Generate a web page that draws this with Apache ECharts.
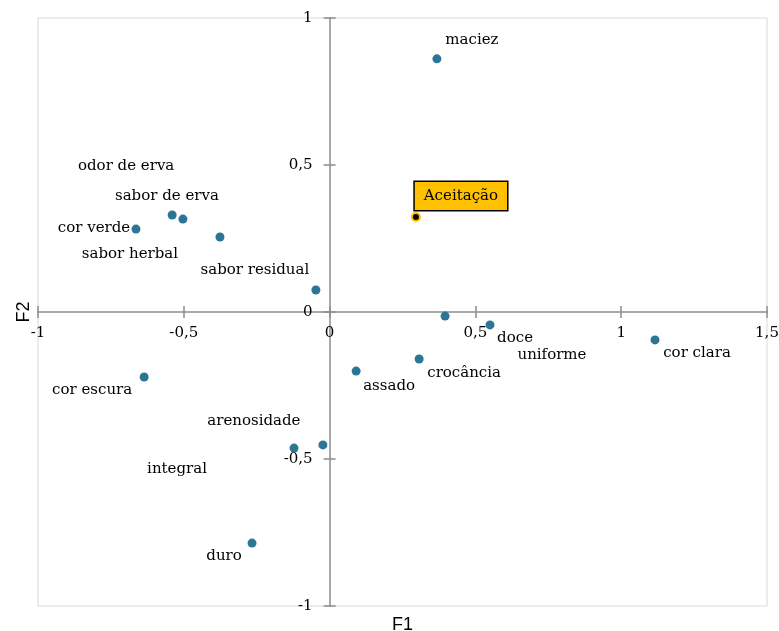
<!DOCTYPE html>
<html>
<head>
<meta charset="utf-8">
<script src="https://cdn.jsdelivr.net/npm/echarts@6/dist/echarts.min.js"></script>
<style>
  html, body { margin: 0; padding: 0; background: #ffffff; }
  #chart { width: 779px; height: 631px; }
</style>
</head>
<body>
<div id="chart"></div>
<script>
// Sensory attributes projected on the first two factors (F1, F2)
const attributes = [
  'maciez', 'odor de erva', 'sabor de erva', 'cor verde', 'sabor herbal',
  'sabor residual', 'doce', 'uniforme', 'cor clara', 'crocância',
  'assado', 'cor escura', 'arenosidade', 'integral', 'duro'
];
const f1Values = [0.368, -0.540, -0.503, -0.664, -0.376, -0.047, 0.396, 0.550, 1.116, 0.307, 0.091, -0.636, -0.023, -0.122, -0.266];
const f2Values = [0.861, 0.330, 0.316, 0.282, 0.255, 0.075, -0.014, -0.044, -0.095, -0.160, -0.201, -0.221, -0.452, -0.463, -0.786];

// Supplementary variable
const acceptanceName = 'Aceitação';
const acceptanceF1 = [0.296];
const acceptanceF2 = [0.323];

// Axis settings
const xTicks = { min: -1, max: 1.5, step: 0.5 };
const yTicks = { min: -1, max: 1, step: 0.5 };
const axisTitles = ['F1', 'F2'];

// Where each attribute label sits relative to its point (px)
const labelShift = {
  'maciez': [35, -19],
  'odor de erva': [-46, -49],
  'sabor de erva': [-16, -23],
  'cor verde': [-42, -1],
  'sabor herbal': [-90, 17],
  'sabor residual': [-61, -20],
  'doce': [70, 22],
  'uniforme': [62, 30],
  'cor clara': [42, 13],
  'crocância': [45, 14],
  'assado': [33, 15],
  'cor escura': [-52, 13],
  'arenosidade': [-69, -24],
  'integral': [-117, 21],
  'duro': [-28, 13]
};

const W = 779, H = 631;
const gridBox = { left: 38, right: 12, top: 18, bottom: 25 };
const gridW = W - gridBox.left - gridBox.right;
const gridH = H - gridBox.top - gridBox.bottom;

// Axes cross at the origin: shift each axis line from its grid edge to zero
const zeroFromLeft = gridW * (0 - xTicks.min) / (xTicks.max - xTicks.min);
const zeroFromRight = gridW - zeroFromLeft;
const zeroFromTop = gridH * (yTicks.max - 0) / (yTicks.max - yTicks.min);
const zeroFromBottom = gridH - zeroFromTop;

const serif = 'DejaVu Serif';
const axisGray = '#8c8c8c';
const textColor = '#000000';
const comma = v => String(v).replace('.', ',');

const attrData = attributes.map((name, i) => ({
  name: name,
  value: [f1Values[i], f2Values[i]],
  label: { offset: labelShift[name] }
}));

const accData = acceptanceF1.map((x, i) => ({
  name: acceptanceName,
  value: [x, acceptanceF2[i]]
}));

function mainAxis(range, title, gap, isX) {
  return {
    type: 'value',
    min: range.min, max: range.max, interval: range.step,
    position: isX ? 'bottom' : 'left',
    offset: isX ? -zeroFromBottom : -zeroFromLeft,
    axisLine: { show: true, onZero: false, lineStyle: { color: axisGray, width: 1.5 } },
    axisTick: { show: true, length: 6, lineStyle: { color: axisGray, width: 1.5 } },
    axisLabel: {
      formatter: comma, fontFamily: serif, fontSize: 15, color: textColor,
      margin: isX ? 14 : 17, showMinLabel: true, showMaxLabel: true, hideOverlap: false
    },
    splitLine: { show: false },
    name: title, nameLocation: 'middle', nameGap: gap,
    nameTextStyle: { fontFamily: 'Liberation Sans', fontSize: 18, color: textColor }
  };
}

// Second axis pair draws the other half of each tick, so ticks cross the axis line
function crossAxis(range, isX) {
  return {
    type: 'value',
    min: range.min, max: range.max, interval: range.step,
    position: isX ? 'top' : 'right',
    offset: isX ? -zeroFromTop : -zeroFromRight,
    axisLine: { show: false, onZero: false },
    axisTick: { show: true, length: 6, lineStyle: { color: axisGray, width: 1.5 } },
    axisLabel: { show: false },
    splitLine: { show: false }
  };
}

const chart = echarts.init(document.getElementById('chart'), null, { renderer: 'canvas' });
chart.setOption({
  animation: false,
  backgroundColor: '#ffffff',
  grid: {
    left: gridBox.left, right: gridBox.right, top: gridBox.top, bottom: gridBox.bottom,
    show: true, borderColor: '#d9d9d9', borderWidth: 1,
    outerBoundsMode: 'none', containLabel: false
  },
  xAxis: [mainAxis(xTicks, axisTitles[0], 304, true), crossAxis(xTicks, true)],
  yAxis: [mainAxis(yTicks, axisTitles[1], 297, false), crossAxis(yTicks, false)],
  series: [
    {
      type: 'scatter',
      xAxisIndex: 0, yAxisIndex: 0,
      data: attrData,
      symbol: 'circle', symbolSize: 9,
      itemStyle: { color: '#2b7596', opacity: 1 },
      label: {
        show: true, position: 'inside', formatter: '{b}',
        align: 'center', verticalAlign: 'middle',
        fontFamily: serif, fontSize: 15, color: textColor
      },
      emphasis: { disabled: true }
    },
    {
      type: 'scatter',
      xAxisIndex: 0, yAxisIndex: 0,
      data: accData,
      symbol: 'circle', symbolSize: 8,
      itemStyle: { color: '#000000', borderColor: '#ffc000', borderWidth: 2, opacity: 1 },
      label: {
        show: true, position: 'inside', formatter: '{b}',
        offset: [45, -21],
        align: 'center', verticalAlign: 'middle',
        fontFamily: serif, fontSize: 15, color: textColor,
        backgroundColor: '#ffc000', borderColor: '#000000', borderWidth: 1.5,
        padding: [7, 9, 6, 9]
      },
      emphasis: { disabled: true }
    }
  ]
});
</script>
</body>
</html>
